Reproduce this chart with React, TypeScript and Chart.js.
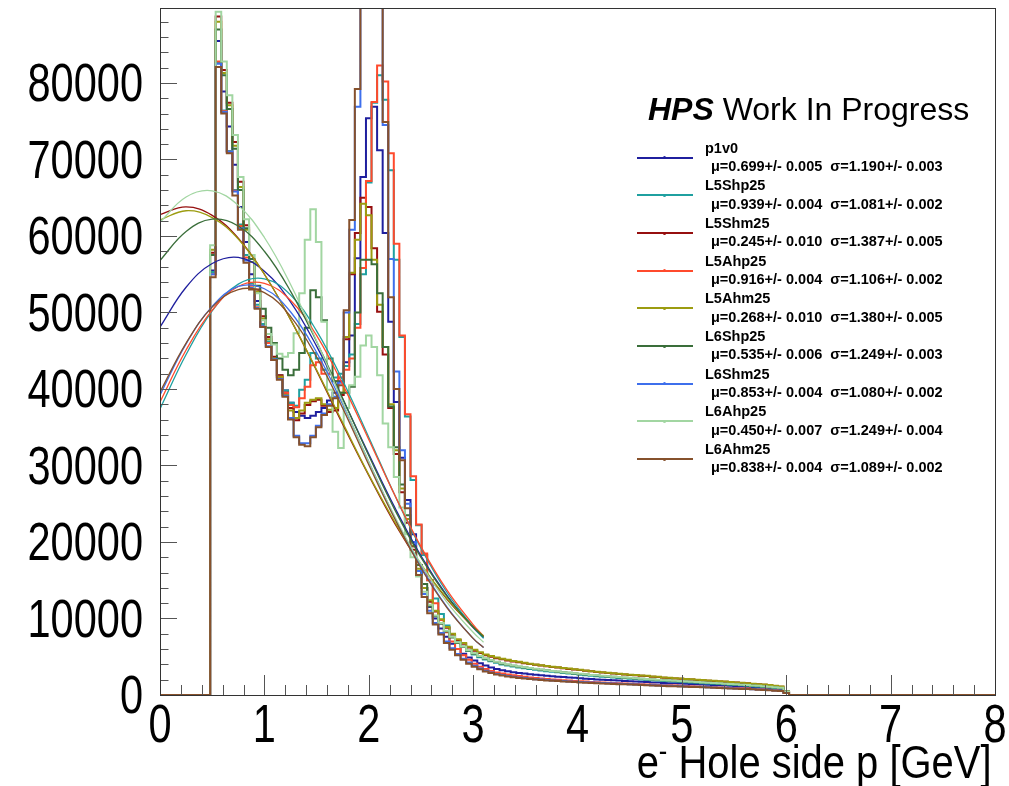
import React, { useEffect, useRef } from 'react';
import { Chart, registerables } from 'chart.js';

Chart.register(...registerables);

// ---- axis / binning definition ----
const X_MIN = 0;
const X_MAX = 8;
const BIN_COUNT = 150;
const FIRST_FILLED_BIN = 9;
const Y_MAX = 89800;
const X_TICKS = [0, 1, 2, 3, 4, 5, 6, 7, 8];
const Y_TICKS = [0, 10000, 20000, 30000, 40000, 50000, 60000, 70000, 80000];

// ---- series meta ----
const SERIES_NAMES = ['p1v0', 'L5Shp25', 'L5Shm25', 'L5Ahp25', 'L5Ahm25', 'L6Shp25', 'L6Shm25', 'L6Ahp25', 'L6Ahm25'];
const MU_TEXT = ['0.699+/- 0.005', '0.939+/- 0.004', '0.245+/- 0.010', '0.916+/- 0.004', '0.268+/- 0.010', '0.535+/- 0.006', '0.853+/- 0.004', '0.450+/- 0.007', '0.838+/- 0.004'];
const SIGMA_TEXT = ['1.190+/- 0.003', '1.081+/- 0.002', '1.387+/- 0.005', '1.106+/- 0.002', '1.380+/- 0.005', '1.249+/- 0.003', '1.080+/- 0.002', '1.249+/- 0.004', '1.089+/- 0.002'];
const COLORS = ['#1f1f9e', '#1fa0a0', '#960f0f', '#ff4a2c', '#9c9c10', '#3a6e3a', '#3e6fec', '#a2d6a2', '#86512c'];

// ---- histogram contents (thousands of entries), bins 9..112 ----
const P1V0 = [
  55.5, 85.5, 78.9, 74.3, 69.3, 63.8, 59.2, 55.0, 51.5, 48.5, 46.0, 43.8,
  41.5, 39.8, 38.2, 37.0, 36.5, 36.2, 36.5, 37.0, 37.5,
  38.5, 39.5, 41.0, 43.5, 47.0, 57.1, 67.7, 75.4, 76.9, 71.2,
  60.4, 48.8, 38.3, 31.0, 25.5, 21.0, 17.0, 14.0,
  11.5, 10.0, 8.7, 7.6, 6.7, 6.0, 5.4, 4.9, 4.5, 4.15, 3.85, 3.6, 3.4, 3.25, 3.1, 2.98, 2.88, 2.8, 2.72, 2.65,
  2.58, 2.52, 2.46, 2.4, 2.34, 2.29, 2.24, 2.19, 2.14, 2.09, 2.04, 2.0, 1.96, 1.92, 1.88, 1.84, 1.8, 1.76, 1.72,
  1.69, 1.65, 1.62, 1.58, 1.55, 1.52, 1.49, 1.46, 1.43, 1.4, 1.37, 1.33, 1.3, 1.27, 1.23, 1.2, 1.16, 1.12, 1.08,
  1.04, 0.99, 0.94, 0.88, 0.82, 0.74, 0.35,
];
const L5SHP25 = [
  55.3, 82.6, 76.4, 71.1, 66.0, 61.5, 57.5, 53.8, 51.0, 48.5, 46.2, 44.0,
  41.8, 39.8, 38.2, 37.8, 39.9, 41.2, 44.7, 44.0, 42.5,
  42.0, 41.5, 42.0, 43.0, 44.5, 48.5, 55.0, 67.0, 77.4, 81.0,
  77.8, 68.6, 56.9, 46.8, 36.4, 28.1, 22.2, 18.3,
  15.0, 12.6, 10.6, 9.1, 7.9, 7.0, 6.3, 5.75, 5.3, 4.95, 4.65, 4.4, 4.2, 4.0, 3.86, 3.73, 3.61, 3.5, 3.4, 3.3,
  3.21, 3.12, 3.04, 2.96, 2.88, 2.81, 2.73, 2.66, 2.59, 2.52, 2.46, 2.4, 2.34, 2.28, 2.23, 2.18, 2.13, 2.08, 2.03,
  1.98, 1.93, 1.88, 1.84, 1.8, 1.76, 1.72, 1.68, 1.64, 1.6, 1.55, 1.51, 1.47, 1.43, 1.39, 1.35, 1.3, 1.26, 1.21,
  1.16, 1.11, 1.05, 0.99, 0.93, 0.86, 0.42,
];
const L5SHM25 = [
  57.8, 88.7, 81.7, 77.4, 72.3, 67.1, 61.4, 57.0, 53.0, 49.5, 46.8, 44.2,
  41.8, 39.5, 37.5, 35.9, 36.8, 37.9, 38.4, 38.6, 37.8,
  37.0, 37.2, 39.2, 46.5, 55.0, 60.4, 65.0, 63.8, 58.4, 50.1,
  44.5, 37.5, 31.5, 26.5, 22.5, 19.0, 16.2, 14.0,
  12.2, 10.9, 9.8, 8.8, 7.9, 7.2, 6.7, 6.2, 5.8, 5.5, 5.2, 5.0, 4.82, 4.66, 4.52, 4.38, 4.27, 4.15, 4.05, 3.95,
  3.85, 3.76, 3.66, 3.58, 3.49, 3.41, 3.33, 3.26, 3.17, 3.09, 3.02, 2.95, 2.87, 2.82, 2.75, 2.69, 2.63, 2.57, 2.52,
  2.47, 2.4, 2.34, 2.27, 2.22, 2.17, 2.12, 2.07, 2.02, 1.97, 1.92, 1.87, 1.82, 1.77, 1.72, 1.67, 1.62, 1.57, 1.52,
  1.45, 1.39, 1.33, 1.27, 1.19, 1.09, 0.49,
];
const L5AHP25 = [
  55.0, 82.8, 76.3, 71.0, 65.9, 61.3, 57.2, 53.5, 50.7, 48.2, 46.0, 43.8,
  41.6, 39.5, 37.9, 37.6, 38.8, 40.3, 43.1, 43.5, 42.0,
  42.0, 41.0, 41.5, 42.5, 44.0, 48.0, 55.8, 67.2, 77.5, 82.3,
  80.2, 70.8, 59.0, 47.0, 36.7, 28.6, 22.3, 18.5,
  15.0, 12.0, 9.8, 8.2, 7.0, 6.0, 5.2, 4.6, 4.1, 3.7, 3.4, 3.15, 2.95, 2.8, 2.68, 2.57, 2.47, 2.38, 2.3, 2.23,
  2.16, 2.1, 2.04, 1.99, 1.94, 1.89, 1.84, 1.8, 1.75, 1.71, 1.67, 1.63, 1.6, 1.56, 1.53, 1.5, 1.47, 1.44, 1.41,
  1.38, 1.35, 1.32, 1.29, 1.26, 1.23, 1.2, 1.17, 1.14, 1.11, 1.08, 1.05, 1.02, 0.99, 0.96, 0.93, 0.9, 0.87, 0.84,
  0.8, 0.76, 0.72, 0.68, 0.63, 0.57, 0.28,
];
const L5AHM25 = [
  58.2, 88.0, 81.3, 77.1, 71.8, 66.4, 60.8, 56.6, 52.7, 49.2, 46.5, 44.0,
  41.6, 39.2, 37.2, 36.2, 37.2, 38.2, 38.6, 38.8, 38.0,
  37.3, 37.5, 39.5, 46.8, 55.2, 59.5, 64.2, 62.7, 56.9, 51.0,
  45.5, 38.0, 32.0, 27.0, 23.0, 19.5, 16.5, 14.0,
  12.4, 11.0, 9.9, 8.9, 8.0, 7.3, 6.8, 6.3, 5.9, 5.6, 5.3, 5.1, 4.9, 4.75, 4.6, 4.45, 4.35, 4.2, 4.1, 4.0,
  3.9, 3.8, 3.7, 3.62, 3.53, 3.45, 3.37, 3.3, 3.2, 3.12, 3.05, 2.98, 2.9, 2.85, 2.78, 2.72, 2.66, 2.6, 2.55,
  2.5, 2.43, 2.37, 2.3, 2.25, 2.2, 2.15, 2.1, 2.05, 2.0, 1.95, 1.9, 1.85, 1.8, 1.75, 1.7, 1.65, 1.6, 1.55,
  1.48, 1.42, 1.36, 1.3, 1.22, 1.12, 0.5,
];
const L6SHP25 = [
  57.5, 87.0, 81.0, 76.6, 71.4, 66.0, 61.0, 57.0, 53.5, 50.5, 48.0, 46.0,
  44.0, 42.5, 41.8, 42.5, 44.7, 48.0, 52.9, 52.0, 49.0,
  44.0, 41.0, 39.5, 39.5, 40.3, 50.0, 56.9, 56.9, 56.3, 52.5,
  45.5, 37.7, 32.4, 27.5, 23.5, 20.0, 17.0, 14.5,
  11.6, 10.3, 9.3, 8.3, 7.5, 6.8, 6.3, 5.8, 5.4, 5.05, 4.75, 4.5, 4.3, 4.1, 3.95, 3.82, 3.7, 3.6, 3.5, 3.4,
  3.3, 3.22, 3.13, 3.05, 2.97, 2.9, 2.82, 2.75, 2.68, 2.6, 2.55, 2.49, 2.43, 2.37, 2.32, 2.27, 2.22, 2.17, 2.12,
  2.07, 2.02, 1.97, 1.92, 1.88, 1.84, 1.8, 1.76, 1.72, 1.68, 1.63, 1.59, 1.55, 1.5, 1.46, 1.42, 1.37, 1.33, 1.28,
  1.23, 1.18, 1.12, 1.06, 1.0, 0.92, 0.45,
];
const L6SHM25 = [
  55.0, 82.5, 76.2, 71.0, 65.8, 61.0, 56.8, 53.2, 50.6, 48.2, 45.6, 43.9,
  41.3, 39.1, 36.2, 33.9, 32.9, 32.9, 33.9, 35.2, 36.8,
  38.0, 39.0, 40.8, 50.0, 60.8, 76.9, 108.0, 118.0, 115.0, 102.0,
  74.5, 57.0, 42.3, 32.0, 25.0, 20.0, 16.2, 13.2,
  11.0, 9.4, 8.1, 7.0, 6.1, 5.35, 4.75, 4.25, 3.82, 3.47, 3.18, 2.95, 2.76, 2.61, 2.48, 2.38, 2.29, 2.21, 2.14, 2.07,
  2.01, 1.96, 1.91, 1.86, 1.82, 1.78, 1.74, 1.7, 1.66, 1.62, 1.59, 1.56, 1.52, 1.49, 1.46, 1.43, 1.4, 1.37, 1.34,
  1.31, 1.28, 1.25, 1.23, 1.2, 1.17, 1.15, 1.12, 1.09, 1.07, 1.04, 1.01, 0.98, 0.95, 0.92, 0.89, 0.86, 0.83, 0.8,
  0.76, 0.72, 0.68, 0.64, 0.59, 0.54, 0.27,
];
const L6AHP25 = [
  58.8, 89.3, 82.8, 78.4, 73.2, 67.7, 62.2, 57.5, 52.5, 49.0, 47.2, 45.8,
  44.6, 44.2, 44.7, 47.3, 52.5, 59.5, 63.5, 59.2, 48.8,
  39.9, 34.4, 32.3, 37.5, 40.5, 41.6, 45.7, 47.0, 45.5, 41.8,
  35.5, 32.4, 28.5, 24.5, 21.0, 18.0, 15.5, 13.5,
  11.8, 10.4, 9.4, 8.4, 7.6, 6.9, 6.35, 5.85, 5.45, 5.1, 4.8, 4.55, 4.33, 4.14, 3.98, 3.85, 3.73, 3.62, 3.52, 3.42,
  3.33, 3.24, 3.15, 3.07, 2.99, 2.92, 2.84, 2.77, 2.7, 2.63, 2.57, 2.51, 2.45, 2.39, 2.34, 2.29, 2.24, 2.19, 2.14,
  2.09, 2.04, 1.99, 1.94, 1.9, 1.86, 1.82, 1.78, 1.74, 1.7, 1.65, 1.61, 1.57, 1.52, 1.48, 1.44, 1.39, 1.35, 1.3,
  1.25, 1.2, 1.14, 1.08, 1.02, 0.94, 0.47,
];
const L6AHM25 = [
  54.6, 82.1, 76.0, 70.8, 65.3, 60.8, 56.5, 53.0, 50.5, 48.1, 45.5, 43.8,
  41.2, 39.0, 36.0, 33.7, 32.7, 32.5, 33.7, 35.0, 36.6,
  37.8, 38.8, 40.5, 50.3, 62.1, 79.2, 110.0, 120.0, 116.0, 104.0,
  74.9, 52.0, 40.0, 30.7, 24.4, 19.4, 15.7, 12.8,
  10.7, 9.2, 7.9, 6.8, 5.9, 5.2, 4.6, 4.1, 3.7, 3.35, 3.08, 2.86, 2.68, 2.54, 2.42, 2.32, 2.23, 2.15, 2.08, 2.02,
  1.96, 1.91, 1.86, 1.82, 1.77, 1.73, 1.69, 1.65, 1.61, 1.58, 1.54, 1.51, 1.48, 1.45, 1.42, 1.39, 1.36, 1.33, 1.3,
  1.27, 1.24, 1.21, 1.19, 1.16, 1.13, 1.11, 1.08, 1.05, 1.03, 1.0, 0.97, 0.95, 0.92, 0.89, 0.86, 0.83, 0.8, 0.77,
  0.74, 0.7, 0.66, 0.62, 0.57, 0.52, 0.26,
];
const HISTS = [P1V0, L5SHP25, L5SHM25, L5AHP25, L5AHM25, L6SHP25, L6SHM25, L6AHP25, L6AHM25];

// ---- Gaussian fit curves (thousands), read at these x ----
const FIT_X = [0, 0.25, 0.5, 0.75, 1.0, 1.25, 1.5, 1.75, 2.0, 2.25, 2.5, 2.75, 3.0, 3.1];
const FIT_P1V0 = [48.1, 53.3, 56.4, 57.2, 55.4, 51.4, 45.6, 38.7, 31.5, 24.5, 18.2, 13.0, 8.8, 7.5];
const FIT_L5SHP25 = [37.4, 44.5, 50.2, 53.7, 54.4, 52.3, 47.6, 41.1, 33.7, 26.1, 19.2, 13.4, 8.9, 7.4];
const FIT_L5SHM25 = [62.8, 63.8, 62.7, 59.7, 55.0, 49.1, 42.4, 35.4, 28.7, 22.4, 17.0, 12.5, 8.9, 7.7];
const FIT_L5AHP25 = [38.3, 45.1, 50.3, 53.4, 53.8, 51.6, 47.0, 40.6, 33.4, 26.1, 19.4, 13.7, 9.2, 7.7];
const FIT_L5AHM25 = [62.1, 63.3, 62.4, 59.6, 55.0, 49.1, 42.5, 35.6, 28.8, 22.6, 17.1, 12.6, 8.9, 7.7];
const FIT_L6SHP25 = [56.8, 60.6, 62.2, 61.3, 58.0, 52.8, 46.2, 38.8, 31.3, 24.2, 18.0, 12.9, 8.9, 7.6];
const FIT_L6SHM25 = [39.2, 45.9, 50.8, 53.4, 53.1, 50.1, 44.8, 38.0, 30.5, 23.2, 16.8, 11.5, 7.4, 6.2];
const FIT_L6AHP25 = [61.8, 65.1, 65.9, 64.0, 59.8, 53.7, 46.3, 38.3, 30.5, 23.3, 17.1, 12.1, 8.2, 6.9];
const FIT_L6AHM25 = [39.6, 46.0, 50.7, 53.0, 52.6, 49.5, 44.2, 37.5, 30.1, 23.0, 16.6, 11.4, 7.4, 6.2];
const FITS = [FIT_P1V0, FIT_L5SHP25, FIT_L5SHM25, FIT_L5AHP25, FIT_L5AHM25, FIT_L6SHP25, FIT_L6SHM25, FIT_L6AHP25, FIT_L6AHM25];

const SANS = '"Liberation Sans", Arial, Helvetica, sans-serif';
const LABEL_SIZE = 54;
const LABEL_SQUEEZE = 0.77;

function histPoints(values: number[]) {
  const w = (X_MAX - X_MIN) / BIN_COUNT;
  const pts: { x: number; y: number }[] = [];
  for (let k = 0; k < BIN_COUNT; k++) {
    const idx = k - FIRST_FILLED_BIN;
    const v = idx >= 0 && idx < values.length ? values[idx] * 1000 : 0;
    pts.push({ x: X_MIN + k * w, y: v });
  }
  pts.push({ x: X_MAX, y: 0 });
  return pts;
}

// ROOT-like frame: inner ticks + condensed tick labels placed from the scales
const rootFrame = {
  id: 'rootFrame',
  afterDraw(chart: any) {
    const { ctx, chartArea: a, scales } = chart;
    const xs = scales.x;
    const ys = scales.y;
    ctx.save();
    ctx.lineWidth = 1;
    ctx.strokeStyle = '#555';
    for (let i = 0; i <= 40; i++) {
      const v = X_MIN + i * 0.2;
      const px = Math.round(xs.getPixelForValue(v)) + 0.5;
      const len = i % 5 === 0 ? 20 : 10;
      ctx.beginPath();
      ctx.moveTo(px, a.bottom);
      ctx.lineTo(px, a.bottom - len);
      ctx.stroke();
    }
    for (let i = 0; i * 2000 <= Y_MAX; i++) {
      const py = Math.round(ys.getPixelForValue(i * 2000)) + 0.5;
      const len = i % 5 === 0 ? 17 : 8.5;
      ctx.beginPath();
      ctx.moveTo(a.left, py);
      ctx.lineTo(a.left + len, py);
      ctx.stroke();
    }
    ctx.strokeStyle = '#333';
    ctx.strokeRect(Math.round(a.left) + 0.5, Math.round(a.top) + 0.5, Math.round(a.right - a.left), Math.round(a.bottom - a.top));

    // tick labels
    ctx.fillStyle = '#000';
    ctx.font = `${LABEL_SIZE}px ${SANS}`;
    ctx.textBaseline = 'alphabetic';
    const capH = LABEL_SIZE * 0.716;
    ctx.textAlign = 'right';
    ys.ticks.forEach((t: any) => {
      const py = ys.getPixelForValue(t.value);
      ctx.save();
      ctx.translate(a.left - 17, py + capH / 2 - 1);
      ctx.scale(LABEL_SQUEEZE, 1);
      ctx.fillText(String(t.value), 0, 0);
      ctx.restore();
    });
    ctx.textAlign = 'center';
    xs.ticks.forEach((t: any) => {
      const px = xs.getPixelForValue(t.value);
      ctx.save();
      ctx.translate(px, a.bottom + 8 + capH);
      ctx.scale(LABEL_SQUEEZE, 1);
      ctx.fillText(String(t.value), 0, 0);
      ctx.restore();
    });
    ctx.restore();
  },
};

export default function App() {
  const canvasRef = useRef<HTMLCanvasElement | null>(null);

  useEffect(() => {
    if (!canvasRef.current) return;
    const datasets: any[] = [];
    HISTS.forEach((vals, i) => {
      datasets.push({
        label: SERIES_NAMES[i],
        data: histPoints(vals),
        borderColor: COLORS[i],
        backgroundColor: COLORS[i],
        borderWidth: 2,
        pointRadius: 0,
        stepped: true,
        fill: false,
        order: 100 - i,
      });
    });
    FITS.forEach((vals, i) => {
      datasets.push({
        label: SERIES_NAMES[i] + ' fit',
        data: FIT_X.map((x, j) => ({ x, y: vals[j] * 1000 })),
        borderColor: COLORS[i],
        backgroundColor: COLORS[i],
        borderWidth: 1.3,
        pointRadius: 0,
        tension: 0.4,
        fill: false,
        order: 50 - i,
      });
    });

    const chart = new Chart(canvasRef.current, {
      type: 'line',
      data: { datasets },
      options: {
        animation: false,
        responsive: false,
        devicePixelRatio: 1,
        layout: { autoPadding: false, padding: { left: 0, right: 14, top: 8, bottom: 0 } },
        plugins: { legend: { display: false }, tooltip: { enabled: false } },
        scales: {
          x: {
            type: 'linear',
            min: X_MIN,
            max: X_MAX,
            grid: { display: false, drawTicks: false },
            border: { display: false },
            ticks: { display: false },
            afterBuildTicks: (scale: any) => {
              scale.ticks = X_TICKS.map((v) => ({ value: v }));
            },
            afterFit: (scale: any) => {
              scale.height = 91;
              scale.paddingLeft = 0;
              scale.paddingRight = 0;
              scale.paddingTop = 0;
              scale.paddingBottom = 0;
            },
          },
          y: {
            type: 'linear',
            min: 0,
            max: Y_MAX,
            grid: { display: false, drawTicks: false },
            border: { display: false },
            ticks: { display: false },
            afterBuildTicks: (scale: any) => {
              scale.ticks = Y_TICKS.map((v) => ({ value: v }));
            },
            afterFit: (scale: any) => {
              scale.width = 160;
              scale.paddingLeft = 0;
              scale.paddingRight = 0;
              scale.paddingTop = 0;
              scale.paddingBottom = 0;
            },
          },
        },
      } as any,
      plugins: [rootFrame],
    });
    return () => chart.destroy();
  }, []);

  const step = 37.67;
  return (
    <div style={{ position: 'absolute', left: 0, top: 0, width: 1009, height: 786, background: '#fff', overflow: 'hidden' }}>
      <canvas ref={canvasRef} width={1009} height={786} style={{ position: 'absolute', left: 0, top: 0 }} />
      <div style={{ position: 'absolute', left: 648, top: 93, font: `32px ${SANS}`, lineHeight: '32px', whiteSpace: 'nowrap', color: '#000' }}>
        <b><i>HPS</i></b> Work In Progress
      </div>
      {SERIES_NAMES.map((name, i) => (
        <React.Fragment key={name}>
          <div style={{ position: 'absolute', left: 637, top: 156.7 + step * i, width: 56, height: 2, background: COLORS[i] }} />
          <div style={{ position: 'absolute', left: 663, top: 156.2 + step * i, width: 3, height: 3, borderRadius: 2, background: COLORS[i] }} />
          <div style={{ position: 'absolute', left: 705, top: 140.5 + step * i, font: `bold 14.5px ${SANS}`, lineHeight: '14px', whiteSpace: 'nowrap', color: '#000' }}>
            {name}
          </div>
          <div style={{ position: 'absolute', left: 711, top: 158.9 + step * i, font: `bold 14.5px ${SANS}`, lineHeight: '14px', whiteSpace: 'pre', color: '#000' }}>
            {`\u03bc=${MU_TEXT[i]}  \u03c3=${SIGMA_TEXT[i]}`}
          </div>
        </React.Fragment>
      ))}
      <div style={{ position: 'absolute', right: 17, top: 738, font: `47px ${SANS}`, lineHeight: '47px', whiteSpace: 'nowrap', color: '#000', transform: 'scaleX(0.85)', transformOrigin: 'right center' }}>
        e<span style={{ fontSize: 30, position: 'relative', top: -17 }}>-</span> Hole side p [GeV]
      </div>
    </div>
  );
}
